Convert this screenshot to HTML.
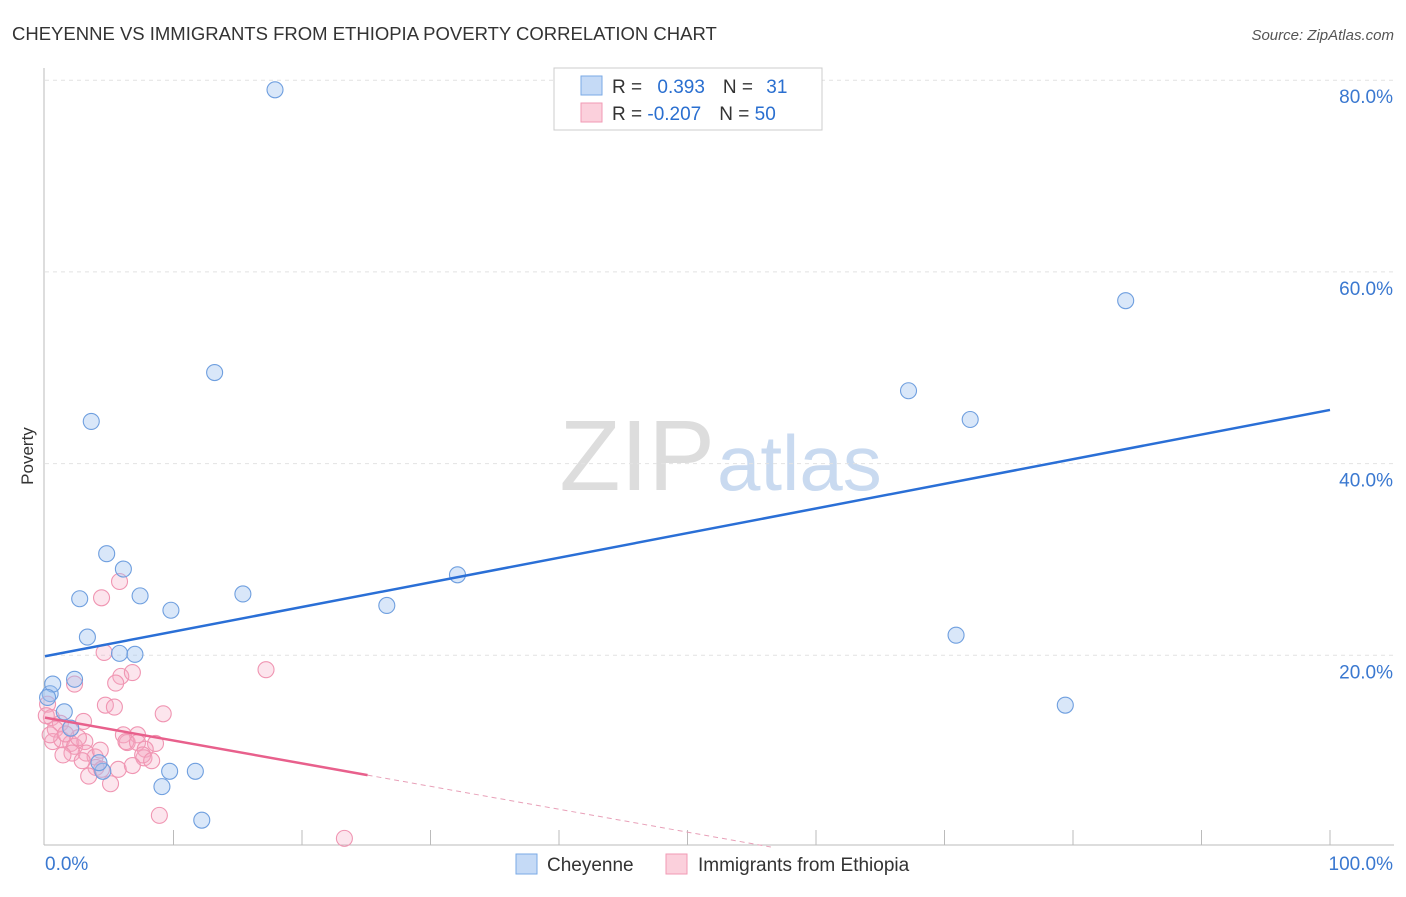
<!DOCTYPE html>
<html><head><meta charset="utf-8"><style>
body{margin:0;background:#fff;font-family:"Liberation Sans",sans-serif;}
svg text{font-family:"Liberation Sans",sans-serif;}
</style></head><body>
<svg width="1406" height="892" xmlns="http://www.w3.org/2000/svg" id="chart">
<text x="12" y="40" font-size="18.5" fill="#333">CHEYENNE VS IMMIGRANTS FROM ETHIOPIA POVERTY CORRELATION CHART</text>
<text x="1394" y="40" font-size="15" fill="#555" font-style="italic" text-anchor="end">Source: ZipAtlas.com</text>
<text x="33" y="456" font-size="17" fill="#333" transform="rotate(-90 33 456)" text-anchor="middle">Poverty</text>
<text x="715" y="490" font-size="100" fill="#ddd" text-anchor="end" font-family="Liberation Serif">ZIP</text>
<text x="717" y="490" font-size="78" fill="#c9daf0">atlas</text>
<g id="grid"></g><g id="axes"></g><g id="pts"></g><g id="lines"></g>
<g>
<rect x="554" y="68" width="268" height="62" fill="#fff" stroke="#ccc"/>
<rect x="581" y="76" width="21" height="19" fill="#c5daf6" stroke="#7aaae6"/>
<rect x="581" y="103" width="21" height="19" fill="#fbd0dc" stroke="#f29ab4"/>
<text x="612" y="93" font-size="19" fill="#333">R = <tspan fill="#2a6fd0" dx="10">0.393</tspan><tspan dx="18" fill="#333">N = </tspan><tspan fill="#2a6fd0" dx="8">31</tspan></text>
<text x="612" y="120" font-size="19" fill="#333">R = <tspan fill="#2a6fd0">-0.207</tspan><tspan dx="18" fill="#333">N = </tspan><tspan fill="#2a6fd0">50</tspan></text>
</g>
<g>
<rect x="516" y="854" width="21" height="20" fill="#c5daf6" stroke="#7aaae6"/>
<text x="547" y="871" font-size="19" fill="#333">Cheyenne</text>
<rect x="666" y="854" width="21" height="20" fill="#fbd0dc" stroke="#f29ab4"/>
<text x="698" y="871" font-size="19" fill="#333">Immigrants from Ethiopia</text>
</g>
</svg>
<script>
const yTicks=[20,40,60,80];
const yTickLabels=["20.0%","40.0%","60.0%","80.0%"];
const cheyX=[17.9,84.1,13.2,67.2,3.6,72.0,4.8,6.1,32.1,2.7,7.4,15.4,9.8,26.6,3.3,70.9,5.8,7.0,79.4,0.4,0.6,2.3,1.5,2.0,4.5,4.2,9.7,11.7,9.1,12.2,0.2];
const cheyY=[79.0,57.0,49.5,47.6,44.4,44.6,30.6,29.0,28.4,25.9,26.2,26.4,24.7,25.2,21.9,22.1,20.2,20.1,14.8,16.0,17.0,17.5,14.1,12.4,7.9,8.8,7.9,7.9,6.3,2.8,15.6];
const ethX=[5.8,4.4,4.6,17.2,5.9,6.8,5.5,2.3,4.7,5.4,9.2,0.2,0.5,1.2,0.8,2.0,3.0,0.6,1.3,2.0,2.3,3.1,2.6,1.6,3.2,3.9,2.1,4.3,6.1,6.4,7.2,6.3,7.2,8.6,7.8,7.7,7.6,8.3,3.97,4.4,5.7,3.4,6.8,5.1,8.9,23.3,0.1,0.4,1.4,2.9];
const ethY=[27.7,26.0,20.3,18.5,17.8,18.2,17.1,17.0,14.8,14.6,13.9,14.9,13.5,12.9,12.3,12.4,13.1,11.0,11.2,10.8,10.5,11.0,11.4,11.8,9.8,9.4,9.8,10.1,11.7,10.9,11.7,11.0,10.9,10.8,10.2,9.3,9.6,9.0,8.3,8.1,8.1,7.4,8.5,6.6,3.3,0.9,13.7,11.7,9.6,9.0];
const blueFit=[19.9,45.6];
const pinkFit=[13.5,-0.239];
const NS="http://www.w3.org/2000/svg";
const X=v=>45+v*12.85, Y=v=>847-v*9.585;
function mk(t,a,p){const e=document.createElementNS(NS,t);for(const k in a)e.setAttribute(k,a[k]);p.appendChild(e);return e;}
const grid=document.getElementById('grid');
yTicks.forEach((t,i)=>{
 const l=mk('line',{x1:45,x2:1394,y1:Y(t),y2:Y(t),stroke:'#e2e2e2','stroke-dasharray':'4,4'},grid);
 
 
 const tx=mk('text',{x:1393,y:Y(t)+23,'font-size':19,fill:'#3a78d0','text-anchor':'end'},grid);tx.textContent=yTickLabels[i];
 
 
});
const ax=document.getElementById('axes');
mk('line',{x1:44,x2:44,y1:68,y2:845,stroke:'#bbb'},ax);
mk('line',{x1:44,x2:1394,y1:845,y2:845,stroke:'#bbb'},ax);
for(let i=1;i<=10;i++){mk('line',{x1:X(i*10),x2:X(i*10),y1:830,y2:845,stroke:'#bbb'},ax);}
let t0=mk('text',{x:45,y:870,'font-size':19,fill:'#3a78d0'},ax);t0.textContent='0.0%';


let t1=mk('text',{x:1393,y:870,'font-size':19,fill:'#3a78d0','text-anchor':'end'},ax);t1.textContent='100.0%';


const pts=document.getElementById('pts');
ethX.forEach((x,i)=>{const c=mk('circle',{cx:X(x),cy:Y(ethY[i]),r:8,fill:'rgba(246,170,195,0.3)',stroke:'#f095b2','stroke-width':1.1},pts);
 
 });
cheyX.forEach((x,i)=>{const c=mk('circle',{cx:X(x),cy:Y(cheyY[i]),r:8,fill:'rgba(160,195,240,0.4)',stroke:'#6f9fdf','stroke-width':1.1},pts);
 
 });
const ln=document.getElementById('lines');
const bl=mk('line',{x1:X(0),y1:Y(blueFit[0]),x2:X(100),y2:Y(blueFit[1]),stroke:'#2a6fd6','stroke-width':2.5},ln);


const pe=25.1, pz=-pinkFit[0]/pinkFit[1];
const pl=mk('line',{x1:X(0),y1:Y(pinkFit[0]),x2:X(pe),y2:Y(pinkFit[0]+pinkFit[1]*pe),stroke:'#e8608c','stroke-width':2.5},ln);


const pd=mk('line',{x1:X(pe),y1:Y(pinkFit[0]+pinkFit[1]*pe),x2:X(pz),y2:Y(0),stroke:'#e8a0b8','stroke-width':1,'stroke-dasharray':'5,4'},ln);


</script>
</body></html>
